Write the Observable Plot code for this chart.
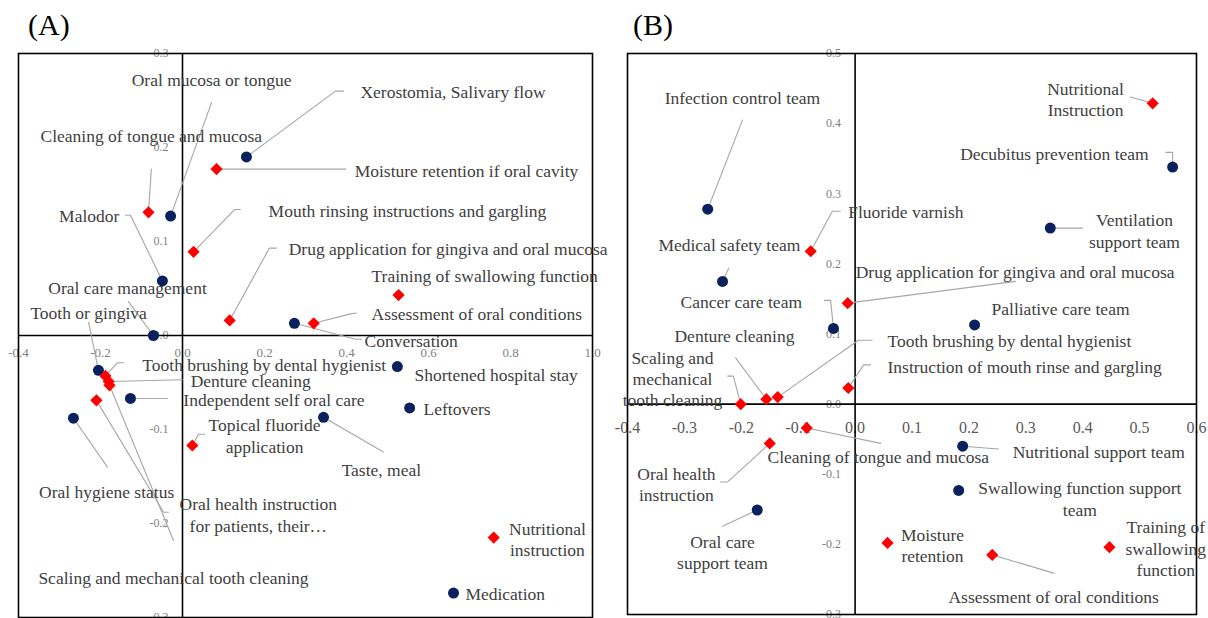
<!DOCTYPE html>
<html><head><meta charset="utf-8">
<script src="https://cdn.jsdelivr.net/npm/d3@7"></script>
<script src="https://cdn.jsdelivr.net/npm/@observablehq/plot@0.6"></script>
<style>
body{margin:0;background:#fff;}
#wrap{position:relative;width:1208px;height:618px;overflow:hidden;background:#fff;}
.panel{position:absolute;top:0;}
.tag{position:absolute;top:10px;font-size:30px;line-height:1;color:#000;font-family:"Liberation Serif",serif;}
</style></head><body>
<div id="wrap">
  <div id="pB" class="panel" style="left:604px"></div>
  <div id="pA" class="panel" style="left:0px"></div>
  <div class="tag" style="left:28px">(A)</div>
  <div class="tag" style="left:633px">(B)</div>
</div>
<script>
// ---------------- Panel A data ----------------
const aNames = [
  "Xerostomia, Salivary flow", "Oral mucosa or tongue", "Malodor", "Oral care management",
  "Tooth or gingiva", "Independent self oral care", "Oral hygiene status", "Conversation",
  "Shortened hospital stay", "Leftovers", "Taste, meal", "Medication",
  "Cleaning of tongue and mucosa", "Moisture retention if oral cavity",
  "Mouth rinsing instructions and gargling", "Drug application for gingiva and oral mucosa",
  "Training of swallowing function", "Assessment of oral conditions",
  "Tooth brushing by dental hygienist", "Denture cleaning",
  "Scaling and mechanical tooth cleaning", "Oral health instruction\nfor patients, their…",
  "Topical fluoride\napplication", "Nutritional\ninstruction"
];
const aGroup = ["o","o","o","o","o","o","o","o","o","o","o","o",
                "c","c","c","c","c","c","c","c","c","c","c","c"];
const aX = [0.156, -0.029, -0.049, -0.071, -0.205, -0.127, -0.266, 0.273, 0.524, 0.554, 0.344, 0.661,
            -0.083, 0.083, 0.027, 0.115, 0.527, 0.320, -0.188, -0.180, -0.178, -0.210, 0.024, 0.759];
const aY = [0.190, 0.127, 0.058, 0.000, -0.037, -0.067, -0.088, 0.013, -0.033, -0.077, -0.087, -0.274,
            0.131, 0.177, 0.089, 0.016, 0.043, 0.013, -0.043, -0.049, -0.053, -0.069, -0.117, -0.215];
// label placement (data units) and leader-line bends
const aLabX = [0.434, 0.071, -0.154, -0.134, -0.229, 0.002, -0.185, 0.444, 0.566, 0.588, 0.485, 0.690,
               -0.076, 0.420, 0.210, 0.259, 0.461, 0.461, -0.098, 0.020, -0.022, 0.185, 0.200, 0.890];
const aLabY = [0.260, 0.273, 0.128, 0.051, 0.025, -0.068, -0.166, -0.005, -0.041, -0.077, -0.142, -0.274,
               0.213, 0.176, 0.133, 0.093, 0.064, 0.024, -0.030, -0.047, -0.257, -0.190, -0.106, -0.216];
const aAnchor = ["start","middle","end","middle","middle","start","middle","start","start","start","middle","start",
                 "middle","start","start","start","start","start","start","start","middle","middle","middle","middle"];
const aVia = [
  [[0.373,0.260],[0.393,0.260]], [[0.071,0.248]], [[-0.127,0.128],[-0.139,0.128]], [[-0.132,0.036]],
  [[-0.229,0.014]], [[-0.037,-0.067]], [[-0.183,-0.140]], [[0.422,-0.004],[0.437,-0.004]],
  [], [], [[0.490,-0.124]], [],
  [[-0.076,0.177]], [[0.398,0.177]], [[0.127,0.134],[0.141,0.134]], [[0.212,0.093],[0.229,0.093]],
  [], [[0.410,0.023],[0.424,0.024]], [[-0.159,-0.029],[-0.144,-0.029]], [[0.0,-0.047]],
  [[-0.022,-0.218]], [[-0.046,-0.188],[-0.034,-0.188]], [[0.039,-0.105],[0.054,-0.105]], []
];
const aXTicks = [-0.4, -0.2, 0.0, 0.2, 0.4, 0.6, 0.8, 1.0];
const aXTickLabels = ["-0.4","-0.2","0.0","0.2","0.4","0.6","0.8","1.0"];
const aYTicks = [0.3, 0.2, 0.1, 0.0, -0.1, -0.2, -0.3];
const aYTickLabels = ["0.3","0.2","0.1","0.0","-0.1","-0.2","-0.3"];

// ---------------- Panel B data ----------------
const bNames = [
  "Infection control team", "Medical safety team", "Cancer care team", "Decubitus prevention team",
  "Ventilation\nsupport team", "Palliative care team", "Oral care\nsupport team",
  "Nutritional support team", "Swallowing function support\nteam",
  "Fluoride varnish", "Drug application for gingiva and oral mucosa", "Nutritional\nInstruction",
  "Denture cleaning", "Tooth brushing by dental hygienist", "Scaling and\nmechanical\ntooth cleaning",
  "Instruction of mouth rinse and gargling", "Cleaning of tongue and mucosa", "Oral health\ninstruction",
  "Moisture\nretention", "Assessment of oral conditions", "Training of\nswallowing\nfunction"
];
const bGroup = ["o","o","o","o","o","o","o","o","o",
                "c","c","c","c","c","c","c","c","c","c","c","c"];
const bX = [-0.259, -0.233, -0.038, 0.558, 0.343, 0.210, -0.172, 0.189, 0.182,
            -0.078, -0.013, 0.523, -0.156, -0.136, -0.201, -0.012, -0.085, -0.150, 0.057, 0.241, 0.447];
const bY = [0.278, 0.175, 0.108, 0.338, 0.251, 0.113, -0.151, -0.060, -0.123,
            0.218, 0.144, 0.429, 0.007, 0.010, 0.000, 0.023, -0.034, -0.056, -0.198, -0.215, -0.204];
const bLabX = [-0.198, -0.221, -0.200, 0.516, 0.491, 0.361, -0.233, 0.277, 0.395,
               -0.012, 0.001, 0.405, -0.212, 0.057, -0.321, 0.057, -0.154, -0.314, 0.136, 0.349, 0.546];
const bLabY = [0.438, 0.228, 0.147, 0.358, 0.248, 0.137, -0.210, -0.067, -0.134,
               0.275, 0.190, 0.436, 0.098, 0.091, 0.037, 0.054, -0.074, -0.113, -0.200, -0.274, -0.205];
const bAnchor = ["middle","middle","middle","end","middle","middle","middle","start","middle",
                 "start","start","middle","middle","start","middle","start","start","middle","middle","middle","middle"];
const bVia = [
  [[-0.198,0.405]], [[-0.222,0.194]], [[-0.043,0.148],[-0.054,0.148]], [[0.558,0.359],[0.546,0.359]],
  [[0.400,0.251]], [], [[-0.233,-0.174]], [[0.252,-0.064]], [],
  [[-0.040,0.275],[-0.026,0.275]], [[0.282,0.175]], [[0.484,0.438]], [[-0.210,0.066]],
  [[0.006,0.091],[0.030,0.091]], [[-0.214,0.040],[-0.224,0.040]], [[0.015,0.056],[0.027,0.056]],
  [[0.045,-0.056]], [[-0.224,-0.111],[-0.237,-0.111]], [], [[0.349,-0.241]], []
];
const bXTicks = [-0.4, -0.3, -0.2, -0.1, 0.0, 0.1, 0.2, 0.3, 0.4, 0.5, 0.6];
const bXTickLabels = ["-0.4","-0.3","-0.2","-0.1","0.0","0.1","0.2","0.3","0.4","0.5","0.6"];
const bYTicks = [0.5, 0.4, 0.3, 0.2, 0.1, 0.0, -0.1, -0.2, -0.3];
const bYTickLabels = ["0.5","0.4","0.3","0.2","0.1","0.0","-0.1","-0.2","-0.3"];

// ---------------- drawing ----------------
const FONT = "Liberation Serif";
const NAVY = "#0a215e", RED = "#ff0000", TEXT = "#404040", LEAD = "#a6a6a6";

function panel(o) {
  const rows = o.names.map((n, i) => ({
    name: n, g: o.group[i], x: o.x[i], y: o.y[i], lx: o.labX[i], ly: o.labY[i], a: o.anchor[i]
  }));
  const leads = [];
  o.via.forEach((v, i) => {
    if (!v.length) return;
    leads.push({id: i, x: o.x[i], y: o.y[i]});
    v.forEach(p => leads.push({id: i, x: p[0], y: p[1]}));
  });
  const xt = o.xTicks.map((v, i) => ({v, t: o.xTickLabels[i]}));
  const yt = o.yTicks.map((v, i) => ({v, t: o.yTickLabels[i]}));
  const labelMarks = ["start", "middle", "end"].map(anc =>
    Plot.text(rows.filter(d => d.a === anc), {
      x: "lx", y: "ly", text: "name", textAnchor: anc, lineAnchor: "middle",
      fontSize: 17.5, lineHeight: 1.22, fill: TEXT, fontFamily: FONT
    })
  );
  return Plot.plot({
    width: o.width, height: 618,
    marginLeft: o.ml, marginRight: o.mr, marginTop: 53, marginBottom: o.mb,
    x: {domain: o.xDomain, axis: null},
    y: {domain: o.yDomain, axis: null},
    style: {background: "transparent", overflow: "visible", fontFamily: FONT},
    marks: [
      Plot.text(xt, {x: "v", y: 0, text: "t", dy: o.xTickDy, fontSize: o.xTickSize, fill: o.xTickColor, fontFamily: FONT}),
      Plot.text(yt, {x: 0, y: "v", text: "t", dx: -14, textAnchor: "end", fontSize: 12, fill: "#7f7f7f", fontFamily: FONT}),
      Plot.frame({stroke: "#000", strokeWidth: 1.6}),
      Plot.ruleX([0], {stroke: "#000", strokeWidth: 1.6}),
      Plot.ruleY([0], {stroke: "#000", strokeWidth: 1.6}),
      Plot.line(leads, {x: "x", y: "y", z: "id", stroke: LEAD, strokeWidth: 1.1}),
      ...labelMarks,
      Plot.dot(rows.filter(d => d.g === "o"), {x: "x", y: "y", r: 5.5, fill: NAVY, stroke: "none"}),
      Plot.dot(rows.filter(d => d.g === "c"), {x: "x", y: "y", r: 5.5, symbol: "diamond2", fill: RED, stroke: "none"})
    ]
  });
}

document.getElementById("pA").append(panel({
  names: aNames, group: aGroup, x: aX, y: aY, labX: aLabX, labY: aLabY, anchor: aAnchor, via: aVia,
  xTicks: aXTicks, xTickLabels: aXTickLabels, yTicks: aYTicks, yTickLabels: aYTickLabels,
  xDomain: [-0.4, 1.0], yDomain: [-0.3, 0.3], width: 604, ml: 18, mr: 12, mb: 1,
  xTickDy: 17, xTickSize: 13, xTickColor: "#7f7f7f"
}));
document.getElementById("pB").append(panel({
  names: bNames, group: bGroup, x: bX, y: bY, labX: bLabX, labY: bLabY, anchor: bAnchor, via: bVia,
  xTicks: bXTicks, xTickLabels: bXTickLabels, yTicks: bYTicks, yTickLabels: bYTickLabels,
  xDomain: [-0.4, 0.6], yDomain: [-0.3, 0.5], width: 604, ml: 23, mr: 12, mb: 4,
  xTickDy: 24, xTickSize: 16, xTickColor: "#595959"
}));
</script>
</body></html>
